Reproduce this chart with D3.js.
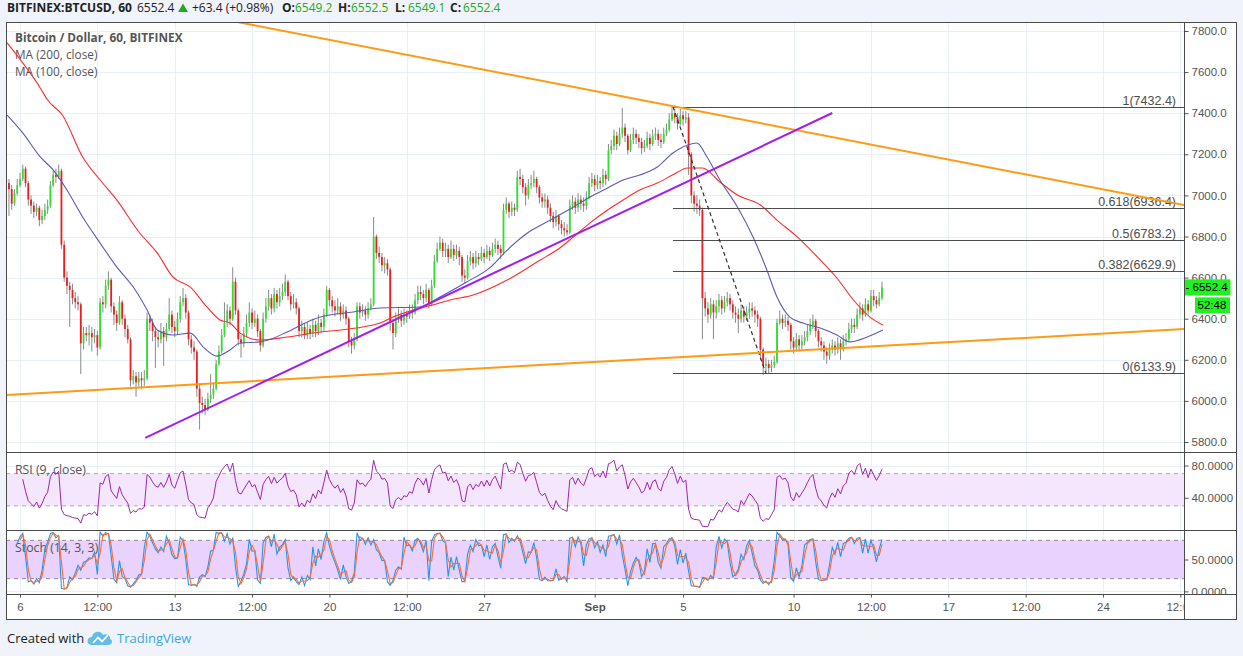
<!DOCTYPE html>
<html>
<head>
<meta charset="utf-8">
<script src="https://cdn.jsdelivr.net/npm/d3@7"></script>
<style>
  body { margin: 0; background: #f0f3fa; }
  svg { display: block; font-family: "Liberation Sans", Arial, sans-serif; }
</style>
</head>
<body>
<svg id="chart" width="1243" height="656"></svg>
<script>
// 3-hour bars, first bar starts Aug 5 09:00 UTC
const firstBar = "08-05 09";
const barHours = 3;
const firstOpen = 7080;

const closes = [
  7060,7030,6960,7010,7050,7080,7130,7060,6980,6950,
  6920,6940,6880,6900,6930,6950,7050,7100,7090,7120,
  6760,6600,6560,6540,6500,6480,6470,6280,6330,6320,
  6330,6310,6320,6260,6480,6470,6560,6590,6460,6420,
  6380,6480,6400,6350,6300,6100,6120,6090,6110,6100,
  6110,6400,6380,6340,6310,6300,6340,6310,6350,6420,
  6360,6340,6400,6480,6500,6430,6300,6260,6240,6060,
  5990,5980,5960,6010,6030,6060,6180,6240,6320,6380,
  6440,6400,6580,6440,6300,6280,6330,6380,6430,6380,
  6400,6340,6270,6400,6460,6500,6450,6520,6480,6510,
  6530,6580,6510,6470,6480,6450,6340,6360,6320,6350,
  6330,6370,6340,6380,6360,6420,6540,6490,6460,6440,
  6460,6420,6440,6400,6290,6270,6300,6460,6430,6440,
  6420,6450,6470,6800,6720,6700,6660,6670,6640,6380,
  6330,6400,6420,6390,6420,6410,6440,6430,6490,6530,
  6520,6500,6540,6470,6560,6680,6740,6770,6730,6740,
  6700,6740,6710,6730,6700,6610,6600,6680,6700,6670,
  6700,6690,6720,6700,6730,6710,6740,6760,6740,6720,
  6930,6960,6920,6940,6930,7090,7080,7040,7000,7050,
  7060,7080,7040,6990,6970,6980,6940,6900,6870,6900,
  6860,6840,6830,6820,6950,6970,6940,6980,6960,6950,
  6990,7060,7080,7050,7070,7060,7100,7080,7220,7240,
  7290,7250,7300,7330,7290,7220,7270,7300,7280,7260,
  7230,7240,7280,7250,7290,7300,7270,7260,7300,7320,
  7370,7400,7380,7350,7390,7370,7380,7200,7000,6960,
  6950,6930,6500,6450,6420,6470,6430,6460,6490,6450,
  6480,6500,6470,6430,6420,6400,6440,6410,6430,6450,
  6440,6420,6400,6250,6170,6180,6160,6175,6190,6380,
  6400,6380,6390,6370,6290,6260,6300,6270,6290,6310,
  6340,6370,6390,6340,6290,6270,6240,6220,6250,6270,
  6250,6280,6260,6290,6300,6350,6370,6360,6420,6450,
  6420,6470,6440,6510,6490,6470,6500,6552.4
];

const highs = [
  7100,7080,7050,7030,7080,7110,7150,7140,7070,7000,
  6970,6960,6950,6930,6960,6980,7070,7120,7130,7150,
  7130,6780,6630,6580,6570,6530,6510,6480,6360,6360,
  6370,6360,6350,6340,6500,6510,6590,6630,6600,6480,
  6440,6510,6490,6420,6370,6310,6150,6140,6140,6140,
  6150,6430,6420,6400,6360,6340,6380,6360,6380,6500,
  6440,6390,6430,6510,6550,6520,6440,6320,6290,6250,
  6080,6020,6010,6040,6130,6090,6200,6270,6350,6480,
  6470,6460,6650,6600,6450,6320,6360,6420,6480,6450,
  6440,6420,6350,6430,6500,6540,6520,6550,6540,6550,
  6570,6615,6590,6530,6520,6500,6460,6390,6380,6380,
  6370,6400,6390,6420,6400,6450,6560,6550,6510,6490,
  6500,6480,6470,6460,6410,6310,6330,6480,6480,6470,
  6460,6480,6500,6895,6810,6750,6720,6700,6690,6650,
  6400,6430,6450,6440,6450,6440,6470,6470,6520,6560,
  6560,6540,6570,6550,6590,6710,6770,6800,6790,6770,
  6760,6780,6760,6760,6750,6710,6640,6710,6730,6720,
  6730,6720,6750,6740,6760,6750,6770,6790,6780,6760,
  6960,6990,6970,6970,6960,7120,7130,7100,7060,7080,
  7100,7120,7090,7050,7010,7010,7000,6960,6920,6930,
  6910,6880,6870,6860,6980,7000,6990,7010,7000,6990,
  7020,7090,7110,7100,7100,7090,7130,7120,7250,7270,
  7320,7310,7330,7425,7350,7300,7300,7330,7320,7300,
  7280,7270,7310,7300,7320,7330,7320,7300,7330,7350,
  7400,7432,7420,7400,7420,7410,7410,7400,7210,7020,
  7000,6980,6940,6530,6480,6500,6490,6490,6520,6510,
  6510,6530,6520,6490,6460,6450,6470,6460,6460,6480,
  6480,6460,6440,6410,6260,6210,6200,6200,6220,6400,
  6440,6420,6420,6410,6380,6310,6330,6320,6320,6340,
  6370,6400,6420,6400,6350,6310,6290,6260,6280,6300,
  6290,6310,6300,6320,6330,6380,6400,6400,6450,6480,
  6470,6500,6490,6540,6540,6510,6530,6580
];

const lows = [
  7020,6900,6930,6950,7000,7040,7070,7040,6950,6910,
  6890,6900,6850,6860,6880,6910,6940,7040,7060,7080,
  6740,6580,6520,6360,6470,6450,6440,6130,6250,6290,
  6270,6240,6280,6220,6250,6430,6450,6540,6430,6370,
  6340,6370,6370,6310,6280,6070,6080,6020,6070,6060,
  6070,6100,6340,6290,6160,6260,6280,6170,6290,6340,
  6330,6310,6320,6380,6460,6400,6270,6230,6200,6020,
  5860,5940,5930,5950,5990,6010,6050,6170,6230,6310,
  6360,6370,6390,6420,6270,6210,6260,6310,6360,6350,
  6360,6310,6240,6260,6380,6440,6420,6430,6450,6460,
  6490,6510,6490,6440,6450,6420,6310,6310,6300,6300,
  6300,6310,6310,6320,6330,6340,6410,6460,6430,6410,
  6420,6390,6400,6370,6260,6230,6250,6290,6400,6410,
  6390,6400,6440,6460,6690,6670,6630,6620,6610,6340,
  6250,6310,6380,6360,6370,6380,6400,6400,6420,6470,
  6490,6470,6480,6450,6460,6550,6670,6730,6700,6700,
  6670,6690,6680,6690,6660,6580,6570,6590,6660,6640,
  6650,6660,6680,6670,6690,6680,6700,6720,6710,6690,
  6710,6910,6890,6900,6900,6920,7050,7010,6950,6980,
  7030,7040,7010,6960,6940,6940,6910,6870,6840,6850,
  6830,6810,6800,6805,6810,6930,6910,6920,6930,6920,
  6930,6980,7040,7020,7030,7030,7040,7050,7070,7200,
  7220,7220,7240,7280,7260,7200,7210,7250,7250,7230,
  7200,7210,7230,7220,7240,7270,7240,7230,7250,7290,
  7310,7360,7350,7320,7340,7340,7350,7100,6960,6920,
  6910,6900,6300,6410,6380,6400,6300,6400,6430,6420,
  6430,6460,6440,6400,6380,6330,6380,6380,6390,6400,
  6410,6380,6360,6200,6126,6140,6130,6140,6160,6180,
  6370,6350,6360,6340,6250,6230,6240,6240,6250,6270,
  6290,6320,6350,6310,6260,6240,6200,6180,6200,6230,
  6220,6230,6200,6240,6270,6290,6330,6330,6350,6400,
  6390,6410,6420,6430,6460,6450,6460,6490
];

// moving averages: [time, value]
const ma200 = [
  ["08-05 10",7742],["08-06 22",7523],["08-07 06",7464],["08-07 22",7391],["08-08 20",7187],
  ["08-09 15",7075],["08-10 09",6978],["08-11 10",6817],["08-12 05",6720],["08-12 22",6603],
  ["08-13 17",6554],["08-14 11",6457],["08-15 01",6394],["08-15 12",6379],["08-15 23",6330],
  ["08-16 21",6296],["08-18 02",6311],["08-19 14",6335],["08-20 12",6345],["08-21 12",6360],
  ["08-22 07",6379],["08-22 21",6408],["08-23 19",6442],["08-24 16",6467],["08-25 11",6491],
  ["08-26 12",6515],["08-28 01",6588],["08-29 13",6686],["08-30 07",6734],["08-31 01",6798],
  ["08-31 19",6866],["09-01 14",6929],["09-02 07",6978],["09-03 01",7026],["09-03 20",7060],
  ["09-04 13",7100],["09-05 05",7133],["09-05 21",7133],["09-06 16",7065],["09-07 11",7002],
  ["09-08 12",6953],["09-09 06",6880],["09-10 04",6798],["09-11 02",6700],["09-11 23",6598],
  ["09-12 17",6491],["09-13 11",6408],["09-14 01",6369]
];
const ma100 = [
  ["08-05 10",7391],["08-06 03",7304],["08-06 22",7187],["08-07 12",7124],["08-08 03",7026],
  ["08-08 20",6895],["08-09 15",6768],["08-10 09",6652],["08-11 03",6554],["08-11 18",6442],
  ["08-12 05",6345],["08-12 22",6321],["08-13 17",6330],["08-14 07",6262],["08-14 22",6218],
  ["08-15 12",6248],["08-15 23",6282],["08-16 21",6287],["08-18 02",6335],["08-19 00",6384],
  ["08-19 14",6408],["08-21 02",6433],["08-22 07",6452],["08-24 02",6457],["08-25 00",6506],
  ["08-26 05",6579],["08-27 06",6647],["08-28 01",6734],["08-28 23",6817],["08-30 00",6880],
  ["08-31 01",6944],["08-31 19",6992],["09-01 14",7036],["09-02 07",7075],["09-03 01",7099],
  ["09-03 20",7138],["09-04 13",7206],["09-05 05",7245],["09-05 15",7255],["09-06 02",7187],
  ["09-06 16",7075],["09-07 11",6944],["09-08 04",6798],["09-08 19",6637],["09-09 06",6506],
  ["09-09 20",6408],["09-10 10",6379],["09-11 05",6355],["09-11 23",6321],["09-12 13",6287],
  ["09-13 08",6311],["09-14 01",6345]
];

// drawings: [time, price] end points
const trendDown = [["08-15 14",7849],["09-27 16",6953]];
const trendUp = [["08-05 09",6029],["09-27 16",6350]];
const trendPurple = [["08-11 16",5820],["09-11 18",7401]];
const fibDiagonal = [["09-04 13",7432.4],["09-08 18",6133.9]];
const fibLevels = [1, 0.618, 0.5, 0.382, 0];
const fibPrices = [7432.4, 6936.4, 6783.2, 6629.9, 6133.9];

const priceTicks = [5800,6000,6200,6400,6600,6800,7000,7200,7400,7600,7800];
const rsiTicks = [40, 80];
const stochTicks = [0, 50];
const timeTicks = ["08-06 00","08-09 12","08-13 00","08-16 12","08-20 00","08-23 12","08-27 00",
  "09-01 00","09-05 00","09-10 00","09-13 12","09-17 00","09-20 12","09-24 00","09-27 12"];
const timeLabels = ["6","12:00","13","12:00","20","12:00","27","Sep","5","10","12:00","17","12:00","24","12:00"];

const lastPrice = 6552.4;
const countdown = "52:48";

// the source uses 1h bars; these lengths cover about the same spans in 3h bars
const rsiLen = 6;
const stochLen = 5;
const stochKSmooth = 1;
const stochDSmooth = 2;

const parseT = (s) => {
  const [md, h] = s.split(" ");
  const [m, d] = md.split("-").map(Number);
  return new Date(Date.UTC(2018, m - 1, d, +h));
};

const L = 6, R = 1184.5, RR = 1236.5;
const mainTop = 22.5, mainBot = 452.5, rsiBot = 530.5, stochBot = 594.5, axisBot = 619.5;

const svg = d3.select("#chart");

const x = d3.scaleUtc()
  .domain([parseT("08-06 00"), parseT("09-24 00")])
  .range([20, 1103]);
const y = d3.scaleLinear().domain([5800, 7800]).range([442, 31]);
const yR = d3.scaleLinear().domain([0, 80]).range([530, 465.5]);
const yS = d3.scaleLinear().domain([0, 50]).range([591.4, 559.5]);

const t0 = parseT(firstBar).getTime();
const bars = closes.map((c, i) => ({
  t: new Date(t0 + i * barHours * 3600e3),
  o: i === 0 ? firstOpen : closes[i - 1],
  c, h: highs[i], l: lows[i]
}));

// indicators from the bars
function rsi(vals, n) {
  const out = [];
  let ag = 0, al = 0;
  for (let i = 1; i < vals.length; i++) {
    const ch = vals[i] - vals[i - 1];
    const g = Math.max(ch, 0), lo = Math.max(-ch, 0);
    if (i <= n) {
      ag += g / n; al += lo / n;
      if (i === n) out.push({ t: bars[i].t, v: 100 - 100 / (1 + ag / al) });
    } else {
      ag = (ag * (n - 1) + g) / n; al = (al * (n - 1) + lo) / n;
      out.push({ t: bars[i].t, v: al === 0 ? 100 : 100 - 100 / (1 + ag / al) });
    }
  }
  return out;
}
const sma = (arr, n) => arr.map((d, i) => (i < n - 1 || d == null || arr[i - n + 1] == null)
  ? null : d3.mean(arr.slice(i - n + 1, i + 1)));
const rawK = bars.map((b, i) => {
  if (i < stochLen - 1) return null;
  const hh = d3.max(highs.slice(i - stochLen + 1, i + 1)), ll = d3.min(lows.slice(i - stochLen + 1, i + 1));
  return (b.c - ll) / (hh - ll) * 100;
});
const kVals = sma(rawK, stochKSmooth);
const dVals = sma(kVals, stochDSmooth);
const stochK = bars.map((b, i) => ({ t: b.t, v: kVals[i] })).filter((d) => d.v != null);
const stochD = bars.map((b, i) => ({ t: b.t, v: dVals[i] })).filter((d) => d.v != null);
const rsiLine = rsi(closes, rsiLen);

// frame
svg.append("rect").attr("x", L).attr("y", mainTop).attr("width", RR - L).attr("height", axisBot - mainTop)
  .attr("fill", "#fff");

const defs = svg.append("defs");
const clip = (id, y0, y1) => defs.append("clipPath").attr("id", id).append("rect")
  .attr("x", L + 0.5).attr("y", y0).attr("width", R - L - 1).attr("height", y1 - y0);
clip("cMain", mainTop + 0.5, mainBot - 0.5);
clip("cRsi", mainBot + 0.5, rsiBot - 0.5);
clip("cSto", rsiBot + 0.5, stochBot - 0.5);
defs.append("clipPath").attr("id", "cTime").append("rect")
  .attr("x", L).attr("y", stochBot).attr("width", R - L - 1).attr("height", axisBot - stochBot);
defs.append("clipPath").attr("id", "cStoAxis").append("rect")
  .attr("x", R).attr("y", rsiBot).attr("width", 60).attr("height", stochBot - rsiBot);

// grid
const grid = svg.append("g").attr("stroke", "#e9eff6").attr("stroke-width", 1);
timeTicks.forEach((s) => {
  const gx = Math.round(x(parseT(s))) + 0.5;
  if (gx < R) grid.append("line").attr("x1", gx).attr("x2", gx).attr("y1", mainTop).attr("y2", stochBot);
});
priceTicks.forEach((p) => {
  const gy = Math.round(y(p)) + 0.5;
  grid.append("line").attr("x1", L).attr("x2", R).attr("y1", gy).attr("y2", gy);
});
rsiTicks.forEach((v) => {
  const gy = Math.round(yR(v)) + 0.5;
  grid.append("line").attr("x1", L).attr("x2", R).attr("y1", gy).attr("y2", gy);
});
stochTicks.forEach((v) => {
  const gy = Math.round(yS(v)) + 0.5;
  grid.append("line").attr("x1", L).attr("x2", R).attr("y1", gy).attr("y2", gy);
});

// main pane legend
const leg = svg.append("g").attr("font-family", "'Open Sans', sans-serif").attr("font-size", 11.8).attr("fill", "#555");
leg.append("text").attr("x", 15).attr("y", 42).attr("font-weight", "bold").text("Bitcoin / Dollar, 60, BITFINEX");
leg.append("text").attr("x", 15).attr("y", 59).text("MA (200, close)");
leg.append("text").attr("x", 15).attr("y", 76).text("MA (100, close)");

const gMain = svg.append("g").attr("clip-path", "url(#cMain)");

// candles
const bw = 1.8;
gMain.append("g").attr("stroke", "#8a8a8a").attr("stroke-width", 1)
  .selectAll("line").data(bars).join("line")
  .attr("x1", (d) => x(d.t)).attr("x2", (d) => x(d.t))
  .attr("y1", (d) => y(d.h)).attr("y2", (d) => y(d.l));
gMain.append("g").selectAll("rect").data(bars).join("rect")
  .attr("x", (d) => x(d.t) - bw / 2).attr("width", bw)
  .attr("y", (d) => y(Math.max(d.o, d.c)))
  .attr("height", (d) => Math.max(1, Math.abs(y(d.o) - y(d.c))))
  .attr("fill", (d) => (d.c >= d.o ? "#2fe02f" : "#f01d1d"));

// moving averages
const maLine = d3.line().curve(d3.curveMonotoneX).x((d) => x(parseT(d[0]))).y((d) => y(d[1]));
gMain.append("path").datum(ma200).attr("d", maLine).attr("fill", "none").attr("stroke", "#ff2b2b").attr("stroke-width", 1.1);
gMain.append("path").datum(ma100).attr("d", maLine).attr("fill", "none").attr("stroke", "#5a5ab8").attr("stroke-width", 1.1);

// fib retracement
fibPrices.forEach((p, i) => {
  const fy = Math.round(y(p)) + 0.5;
  gMain.append("line").attr("x1", x(parseT(fibDiagonal[0][0]))).attr("x2", R)
    .attr("y1", fy).attr("y2", fy).attr("stroke", "#4d4d4d").attr("stroke-width", 1);
  gMain.append("text").attr("x", 1176).attr("y", fy - 2.5).attr("text-anchor", "end")
    .attr("font-size", 12.5).attr("fill", "#4d4d4d")
    .text(`${fibLevels[i]}(${p.toFixed(1)})`);
});
gMain.append("line")
  .attr("x1", x(parseT(fibDiagonal[0][0]))).attr("y1", y(fibDiagonal[0][1]))
  .attr("x2", x(parseT(fibDiagonal[1][0]))).attr("y2", y(fibDiagonal[1][1]))
  .attr("stroke", "#333").attr("stroke-width", 1.2).attr("stroke-dasharray", "4,3");

// trend lines
const seg = (pts, color) => gMain.append("line")
  .attr("x1", x(parseT(pts[0][0]))).attr("y1", y(pts[0][1]))
  .attr("x2", x(parseT(pts[1][0]))).attr("y2", y(pts[1][1]))
  .attr("stroke", color).attr("stroke-width", 2);
seg(trendDown, "#ff9a12");
seg(trendUp, "#ff9a12");
seg(trendPurple, "#a31cf0");

// RSI pane
const gR = svg.append("g");
gR.append("rect").attr("x", L).attr("width", R - L).attr("y", yR(70)).attr("height", yR(30) - yR(70)).attr("fill", "#f3e6fd");
[30, 70].forEach((v) => gR.append("line").attr("x1", L).attr("x2", R).attr("y1", yR(v)).attr("y2", yR(v))
  .attr("stroke", "#b0a8b8").attr("stroke-dasharray", "4,4"));
gR.append("text").attr("x", 15).attr("y", 474).attr("font-family", "'Open Sans', sans-serif").attr("font-size", 12.3)
  .attr("fill", "#555").text("RSI (9, close)");
gR.append("path").datum(rsiLine).attr("clip-path", "url(#cRsi)")
  .attr("d", d3.line().x((d) => x(d.t)).y((d) => yR(d.v)))
  .attr("fill", "none").attr("stroke", "#9c27b0").attr("stroke-width", 1);

// Stoch pane
const gS = svg.append("g");
gS.append("rect").attr("x", L).attr("width", R - L).attr("y", yS(80)).attr("height", yS(20) - yS(80)).attr("fill", "#e9d2fd");
[20, 80].forEach((v) => gS.append("line").attr("x1", L).attr("x2", R).attr("y1", yS(v)).attr("y2", yS(v))
  .attr("stroke", "#8f8795").attr("stroke-dasharray", "4,4"));
gS.append("text").attr("x", 15).attr("y", 552).attr("font-family", "'Open Sans', sans-serif").attr("font-size", 12.3)
  .attr("fill", "#555").text("Stoch (14, 3, 3)");
const sLine = d3.line().x((d) => x(d.t)).y((d) => yS(d.v));
gS.append("path").datum(stochK).attr("clip-path", "url(#cSto)").attr("d", sLine)
  .attr("fill", "none").attr("stroke", "#2196f3").attr("stroke-width", 1.1);
gS.append("path").datum(stochD).attr("clip-path", "url(#cSto)").attr("d", sLine)
  .attr("fill", "none").attr("stroke", "#ff6d2a").attr("stroke-width", 1.1);

// axes
const styleAxis = (g) => {
  g.select(".domain").remove();
  g.selectAll(".tick line").attr("stroke", "#555");
  g.selectAll(".tick text").attr("fill", "#555").attr("font-size", 11.5).attr("font-family", "'Liberation Sans', Arial, sans-serif");
};
svg.append("g").attr("transform", `translate(${R},0)`)
  .call(d3.axisRight(y).tickValues(priceTicks).tickFormat(d3.format(".1f")).tickSize(4).tickPadding(3))
  .call(styleAxis);
svg.append("g").attr("transform", `translate(${R},0)`)
  .call(d3.axisRight(yR).tickValues(rsiTicks).tickFormat(d3.format(".4f")).tickSize(4).tickPadding(3))
  .call(styleAxis);
svg.append("g").attr("clip-path", "url(#cStoAxis)").append("g").attr("transform", `translate(${R},0)`)
  .call(d3.axisRight(yS).tickValues(stochTicks).tickFormat(d3.format(".4f")).tickSize(4).tickPadding(3))
  .call(styleAxis);

const tAxis = svg.append("g").attr("clip-path", "url(#cTime)").append("g")
  .attr("transform", `translate(0,${stochBot})`)
  .call(d3.axisBottom(x).tickValues(timeTicks.map(parseT)).tickFormat((d, i) => timeLabels[i]).tickSize(3).tickPadding(5))
  .call(styleAxis);
tAxis.selectAll(".tick text").filter((d, i) => timeLabels[i] === "Sep").attr("font-weight", "bold");

// last price marker
const ly = y(lastPrice);
svg.append("rect").attr("x", R).attr("y", ly - 8).attr("width", 46).attr("height", 16).attr("fill", "#21f021");
svg.append("text").attr("x", R + 1).attr("y", ly + 4).attr("font-size", 11.5).attr("fill", "#000").text("- " + lastPrice.toFixed(1));
svg.append("rect").attr("x", R + 10.5).attr("y", ly + 10).attr("width", 35).attr("height", 16).attr("fill", "#21f021");
svg.append("text").attr("x", R + 13).attr("y", ly + 22).attr("font-size", 11.5).attr("fill", "#000").text(countdown);

// borders
const border = svg.append("g").attr("stroke", "#4a4a4a").attr("stroke-width", 1).attr("fill", "none");
border.append("rect").attr("x", L + 0.5).attr("y", mainTop).attr("width", RR - L - 0.5).attr("height", axisBot - mainTop);
[mainBot, rsiBot, stochBot].forEach((by) => border.append("line").attr("x1", L).attr("x2", RR).attr("y1", by).attr("y2", by));
border.append("line").attr("x1", R).attr("x2", R).attr("y1", mainTop).attr("y2", axisBot);

// header
const green = "#22ab22";
const hdr = svg.append("g").attr("font-family", "'Open Sans', sans-serif").attr("font-size", 12).attr("fill", "#222");
const hText = (tx, s, bold, fill) => hdr.append("text").attr("x", tx).attr("y", 12)
  .attr("font-weight", bold ? "bold" : null).attr("fill", fill || null).text(s);
hText(7, "BITFINEX:BTCUSD, 60", true);
hText(137, "6552.4");
hText(192, "+63.4 (+0.98%)");
[[282, "O:", "6549.2"], [338, "H:", "6552.5"], [395, "L:", "6549.1"], [450, "C:", "6552.4"]].forEach(([hx, k, v]) => {
  hText(hx, k, true);
  hText(hx + 13, v, false, green);
});
svg.append("path").attr("d", "M178,12 L183,3.5 L188,12 Z").attr("fill", green);

// footer
const foot = svg.append("g").attr("font-family", "'Open Sans', sans-serif").attr("font-size", 13);
foot.append("text").attr("x", 7).attr("y", 643).attr("fill", "#222").text("Created with");
foot.append("path")
  .attr("d", "M92,645 C86,645 86,637 92,637 C93,631 101,630 103,635 C106,633 111,636 110,639 C113,640 113,645 108,645 Z")
  .attr("fill", "#62bde8");
foot.append("path").attr("d", "M93,643 L98,637.5 L102,641.5 L108,635").attr("fill", "none").attr("stroke", "#fff").attr("stroke-width", 1.8);
foot.append("text").attr("x", 117).attr("y", 643).attr("fill", "#3aa9de").text("TradingView");
</script>
</body>
</html>
